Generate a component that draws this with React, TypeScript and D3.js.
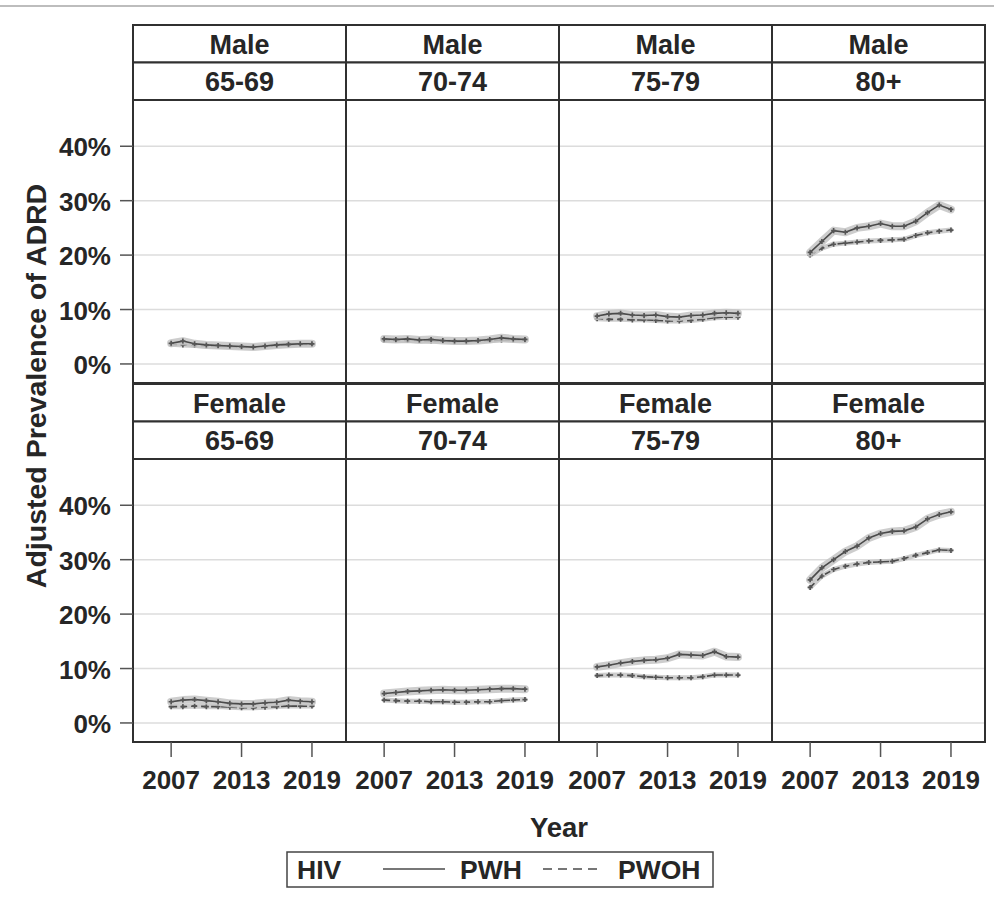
import React from "react";
import * as d3 from "d3";

// Survey years shown on the x axis
const years = [2007, 2008, 2009, 2010, 2011, 2012, 2013, 2014, 2015, 2016, 2017, 2018, 2019];
const xTickYears = [2007, 2013, 2019];
const yTicks = [0, 10, 20, 30, 40];

const sexes = ["Male", "Female"];
const ageGroups = ["65-69", "70-74", "75-79", "80+"];

// Adjusted ADRD prevalence (%) for people with HIV (PWH)
const pwhMale = [
  [3.8, 4.2, 3.7, 3.5, 3.4, 3.3, 3.2, 3.1, 3.3, 3.5, 3.6, 3.7, 3.7],
  [4.6, 4.5, 4.6, 4.4, 4.5, 4.3, 4.2, 4.2, 4.3, 4.5, 4.8, 4.6, 4.5],
  [8.8, 9.2, 9.3, 9.0, 8.9, 9.0, 8.7, 8.6, 8.9, 9.0, 9.3, 9.4, 9.3],
  [20.5, 22.5, 24.5, 24.2, 25.0, 25.3, 25.8, 25.3, 25.3, 26.2, 27.8, 29.2, 28.4],
];
const pwhFemale = [
  [3.9, 4.2, 4.3, 4.1, 3.9, 3.6, 3.5, 3.5, 3.7, 3.8, 4.2, 4.0, 3.9],
  [5.4, 5.6, 5.8, 5.9, 6.0, 6.1, 6.0, 6.0, 6.1, 6.2, 6.3, 6.3, 6.2],
  [10.3, 10.6, 11.0, 11.3, 11.5, 11.6, 11.9, 12.6, 12.5, 12.4, 13.1, 12.2, 12.1],
  [26.3, 28.5, 30.0, 31.5, 32.5, 34.0, 34.8, 35.2, 35.3, 36.0, 37.5, 38.3, 38.8],
];

// Adjusted ADRD prevalence (%) for people without HIV (PWOH)
const pwohMale = [
  [3.6, 3.5, 3.4, 3.3, 3.2, 3.2, 3.1, 3.1, 3.2, 3.4, 3.5, 3.6, 3.6],
  [4.3, 4.3, 4.3, 4.3, 4.2, 4.2, 4.1, 4.1, 4.2, 4.3, 4.4, 4.4, 4.4],
  [8.3, 8.2, 8.2, 8.1, 8.1, 8.0, 7.9, 7.9, 8.0, 8.2, 8.5, 8.6, 8.6],
  [20.0, 21.3, 22.0, 22.2, 22.4, 22.6, 22.7, 22.8, 22.9, 23.6, 24.1, 24.4, 24.6],
];
const pwohFemale = [
  [3.0, 3.0, 3.1, 3.0, 3.0, 2.9, 2.8, 2.8, 2.9, 3.0, 3.1, 3.1, 3.1],
  [4.2, 4.1, 4.0, 4.0, 3.9, 3.9, 3.8, 3.8, 3.9, 3.9, 4.1, 4.2, 4.3],
  [8.7, 8.8, 8.8, 8.7, 8.5, 8.4, 8.3, 8.3, 8.3, 8.5, 8.8, 8.8, 8.8],
  [24.9, 27.0, 28.2, 28.8, 29.2, 29.5, 29.6, 29.7, 30.2, 30.8, 31.3, 31.8, 31.7],
];

const legendTitle = "HIV";
const seriesNames = ["PWH", "PWOH"];

const W = 994;
const H = 904;
const FONT = "'Liberation Sans', Arial, sans-serif";
const INK = "#262626";
const BORDER = "#303030";

const left = 133;
const colW = 213;
const stripH = 37.5;
const panelH = 283;
const rowTops = [25, 384];

const x = d3.scaleLinear().domain([2003.75, 2021.9]).range([0, colW]);
const y = d3.scaleLinear().domain([-3.5, 48.5]).range([panelH, 0]);

const line = d3
  .line<number>()
  .x((_, i) => x(years[i]))
  .y((v) => y(v));

const plus = d3.symbol().type(d3.symbolCross).size(14);

function Series({ values, dashed }: { values: number[]; dashed: boolean }) {
  const d = line(values) || "";
  return (
    <g>
      <path d={d} fill="none" stroke="#c4c4c4" strokeWidth={dashed ? 5 : 8} strokeLinejoin="round" strokeLinecap="round" opacity={0.85} />
      <path d={d} fill="none" stroke="#4a4a4a" strokeWidth={1.6} strokeDasharray={dashed ? "6,4" : undefined} />
      {values.map((v, i) => (
        <path key={i} d={plus() || ""} transform={`translate(${x(years[i])},${y(v)})`} fill="#555" />
      ))}
    </g>
  );
}

function Panel({ row, col }: { row: number; col: number }) {
  const px = left + col * colW;
  const top = rowTops[row];
  const py = top + 2 * stripH;
  const pwh = row === 0 ? pwhMale[col] : pwhFemale[col];
  const pwoh = row === 0 ? pwohMale[col] : pwohFemale[col];
  return (
    <g>
      {/* header strips */}
      <rect x={px} y={top} width={colW} height={stripH} fill="#fff" stroke={BORDER} strokeWidth={2} />
      <rect x={px} y={top + stripH} width={colW} height={stripH} fill="#fff" stroke={BORDER} strokeWidth={2} />
      <text x={px + colW / 2} y={top + stripH / 2 + 1} textAnchor="middle" dominantBaseline="central" fontFamily={FONT} fontWeight="bold" fontSize={27} fill={INK}>
        {sexes[row]}
      </text>
      <text x={px + colW / 2} y={top + stripH * 1.5 + 1} textAnchor="middle" dominantBaseline="central" fontFamily={FONT} fontWeight="bold" fontSize={27} fill={INK}>
        {ageGroups[col]}
      </text>
      <g transform={`translate(${px},${py})`}>
        <rect x={0} y={0} width={colW} height={panelH} fill="#fff" />
        {yTicks.map((t) => (
          <line key={t} x1={0} x2={colW} y1={y(t)} y2={y(t)} stroke="#dcdcdc" strokeWidth={1.5} />
        ))}
        <Series values={pwoh} dashed={true} />
        <Series values={pwh} dashed={false} />
        <rect x={0} y={0} width={colW} height={panelH} fill="none" stroke={BORDER} strokeWidth={2} />
        {row === 1 &&
          xTickYears.map((yr) => (
            <g key={yr}>
              <line x1={x(yr)} x2={x(yr)} y1={panelH} y2={panelH + 15} stroke="#555" strokeWidth={1.5} />
              <text x={x(yr)} y={panelH + 38} textAnchor="middle" dominantBaseline="central" fontFamily={FONT} fontWeight="bold" fontSize={26} fill={INK}>
                {yr}
              </text>
            </g>
          ))}
        {col === 0 &&
          yTicks.map((t) => (
            <g key={t}>
              <line x1={-13} x2={0} y1={y(t)} y2={y(t)} stroke="#555" strokeWidth={1.5} />
              <text x={-22} y={y(t) + 1} textAnchor="end" dominantBaseline="central" fontFamily={FONT} fontWeight="bold" fontSize={26} fill={INK}>
                {`${t}%`}
              </text>
            </g>
          ))}
      </g>
    </g>
  );
}

export default function App() {
  const legendY = 869;
  return (
    <svg width={W} height={H} style={{ position: "absolute", left: 0, top: 0, background: "#fff" }}>
      <rect x={0} y={0} width={W} height={H} fill="#fff" />
      <line x1={0} x2={W} y1={6} y2={6} stroke="#bdbdbd" strokeWidth={2} />
      {[0, 1].map((r) => ageGroups.map((_, c) => <Panel key={`${r}-${c}`} row={r} col={c} />))}
      <text
        transform={`translate(36,386) rotate(-90)`}
        textAnchor="middle"
        dominantBaseline="central"
        fontFamily={FONT}
        fontWeight="bold"
        fontSize={28.5}
        fill={INK}
      >
        Adjusted Prevalence of ADRD
      </text>
      <text x={559} y={827} textAnchor="middle" dominantBaseline="central" fontFamily={FONT} fontWeight="bold" fontSize={27.5} fill={INK}>
        Year
      </text>
      {/* legend */}
      <rect x={287} y={852} width={426} height={35} fill="#fff" stroke="#444" strokeWidth={1.5} />
      <text x={297} y={legendY + 1} dominantBaseline="central" fontFamily={FONT} fontWeight="bold" fontSize={26.5} fill={INK}>
        {legendTitle}
      </text>
      <line x1={383} x2={445} y1={legendY} y2={legendY} stroke="#4a4a4a" strokeWidth={1.6} />
      <text x={460} y={legendY + 1} dominantBaseline="central" fontFamily={FONT} fontWeight="bold" fontSize={26.5} fill={INK}>
        {seriesNames[0]}
      </text>
      <line x1={543} x2={603} y1={legendY} y2={legendY} stroke="#4a4a4a" strokeWidth={1.6} strokeDasharray="9,6" />
      <text x={618} y={legendY + 1} dominantBaseline="central" fontFamily={FONT} fontWeight="bold" fontSize={26.5} fill={INK}>
        {seriesNames[1]}
      </text>
    </svg>
  );
}
